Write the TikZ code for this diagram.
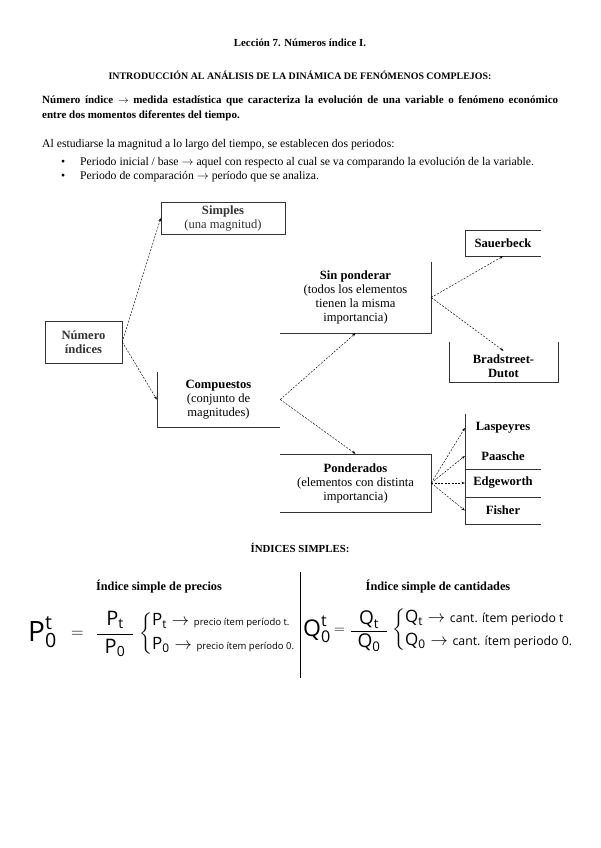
\documentclass[tikz,border=0pt]{standalone}
\usepackage{amsmath}
\usepackage{fontspec}
\setmainfont{Liberation Serif}
\newfontfamily\handfont{Open Sans}
\usepackage{tikz}
\usetikzlibrary{positioning, arrows.meta}
\newcommand{\hw}[1]{\text{\handfont #1}}
\newcommand{\hwnote}[2]{\text{\handfont\fontsize{#1}{#1}\selectfont #2}}
\tikzset{
  txt/.style={align=center, inner sep=0pt, font=\fontsize{12.6}{14}\selectfont},
  cell/.style={txt, minimum width=76pt},
  side/.style={line width=0.6pt, black!80},
  flow/.style={-{Stealth[length=3.5pt,width=2.6pt]}, dash pattern=on 2pt off 1.4pt, line width=0.45pt},
  bodytxt/.style={anchor=west, inner sep=0pt, font=\fontsize{11.7}{15}\selectfont},
  headtxt/.style={inner sep=0pt, font=\bfseries\fontsize{10.8}{12}\selectfont},
  subhead/.style={inner sep=0pt, font=\bfseries\fontsize{12.3}{14}\selectfont},
  hand/.style={inner sep=0pt, anchor=west, font=\handfont\fontsize{17}{19}\selectfont},
}
\begin{document}
\begin{tikzpicture}[x=1pt, y=-1pt]
  \useasboundingbox[fill=white] (0,0) rectangle (600,848);
  % heading and introduction
  \node[headtxt] (title) at (300,43) {Lección 7. Números índice I.};
  \node[headtxt, font=\bfseries\fontsize{9.9}{12}\selectfont] (intro) at (300,75)
    {INTRODUCCIÓN AL ANÁLISIS DE LA DINÁMICA DE FENÓMENOS COMPLEJOS:};
  \node[bodytxt, anchor=north west, text width=516pt, align=justify, font=\bfseries\fontsize{11}{15}\selectfont] (def) at (42,96)
    {Número índice $\rightarrow$ medida estadística que caracteriza la evolución de una variable o fenómeno económico\linebreak entre dos momentos diferentes del tiempo.};
  \node[bodytxt] (per) at (42,145) {Al estudiarse la magnitud a lo largo del tiempo, se establecen dos periodos:};
  \node[bodytxt] (b1) at (61,163) {\textbullet};
  \node[bodytxt] (per1) at (80,163) {Periodo inicial / base $\rightarrow$ aquel con respecto al cual se va comparando la evolución de la variable.};
  \node[bodytxt] (b2) at (61,177) {\textbullet};
  \node[bodytxt] (per2) at (80,177) {Periodo de comparación $\rightarrow$ período que se analiza.};

  % classification scheme
  \node[txt, draw, side, minimum width=77pt, minimum height=42pt] (num) at (83.5,342) {\textbf{Número}\\\textbf{índices}};
  \node[txt, draw, side, minimum width=124pt, minimum height=32pt] (simp) at (223,218) {\textbf{Simples}\\(una magnitud)};
  \node[txt, minimum width=123pt, minimum height=55pt] (comp) at (218.5,399.5) {\textbf{Compuestos}\\(conjunto de\\magnitudes)};
  \draw[side] (comp.north west) -- (comp.south west) -- (comp.south east);
  \node[txt, minimum width=151pt, minimum height=71pt] (sinp) at (355.5,297.5) {\textbf{Sin ponderar}\\(todos los elementos\\tienen la misma\\importancia)};
  \draw[side] (sinp.north east) -- (sinp.south east) -- (sinp.south west);
  \node[txt, minimum width=151pt, minimum height=58pt] (pond) at (355.5,483) {\textbf{Ponderados}\\(elementos con distinta\\importancia)};
  \draw[side] (pond.north west) -- (pond.north east) -- (pond.south east) -- (pond.south west);
  \node[cell, minimum height=26pt] (sauer) at (503,243) {\textbf{Sauerbeck}};
  \draw[side] (sauer.north east) -- (sauer.north west) -- (sauer.south west) -- (sauer.south east);
  \node[cell, minimum width=109pt, minimum height=31pt] (brad) at (503.5,366.5) {\textbf{Bradstreet-}\\\textbf{Dutot}};
  \draw[side] ([yshift=9pt]brad.north west) -- (brad.south west) -- (brad.south east) -- ([yshift=9pt]brad.north east);
  \node[cell] (lasp) at (503,428) {\textbf{Laspeyres}};
  \node[cell] (paas) at (503,456) {\textbf{Paasche}};
  \node[cell, minimum height=28pt] (edge) at (503,483) {\textbf{Edgeworth}};
  \node[cell, minimum height=27pt] (fish) at (503,510.5) {\textbf{Fisher}};
  \draw[side] ([yshift=55pt]edge.north west) -- (fish.south west) -- (fish.south east);
  \draw[side] (edge.north west) -- (edge.north east);
  \draw[side] (edge.south west) -- (edge.south east);

  \draw[flow] (num.east) -- (simp.west);
  \draw[flow] (num.east) -- (comp.west);
  \draw[flow] (comp.east) -- (sinp.south);
  \draw[flow] (comp.east) -- (pond.north);
  \draw[flow] (sinp.east) -- (sauer.south);
  \draw[flow] (sinp.east) -- (brad.north);
  \foreach \t in {lasp, paas, edge, fish}
    \draw[flow] (pond.east) -- (\t.west);

  % simple indices
  \node[headtxt] (simples) at (300,548) {ÍNDICES SIMPLES:};
  \node[subhead] (hprec) at (159,587) {Índice simple de precios};
  \node[subhead] (hcant) at (438,587) {Índice simple de cantidades};
  \draw[line width=1pt] (300,572) -- (300,678);
  % price index
  \node[hand, font=\handfont\fontsize{28}{30}\selectfont] (plhs) at (28,632) {$\hw{P}_{\hw{0}}^{\hw{t}}$};
  \node[hand, font=\fontsize{16}{18}\selectfont] (peq) at (71,634) {$=$};
  \node[hand, anchor=center, font=\handfont\fontsize{20}{22}\selectfont] (pfrac) at (115,634) {$\dfrac{\;\,\hw{P}_{\hw{t}}\,\;}{\hw{P}_{\hw{0}}}$};
  \node[hand] (pdef) at (139,634)
    {$\left\{\begin{array}{@{}l@{}}
       \hw{P}_{\hw{t}} \rightarrow \hwnote{9.5}{precio ítem período t.}\\[5pt]
       \hw{P}_{\hw{0}} \rightarrow \hwnote{9.5}{precio ítem período 0.}
     \end{array}\right.$};
  % quantity index
  \node[hand, font=\handfont\fontsize{23}{25}\selectfont] (qlhs) at (303,629) {$\hw{Q}_{\hw{0}}^{\hw{t}}$};
  \node[hand, font=\fontsize{14}{16}\selectfont] (qeq) at (334,631) {$=$};
  \node[hand, anchor=center, font=\handfont\fontsize{19}{21}\selectfont] (qfrac) at (369,631) {$\dfrac{\;\,\hw{Q}_{\hw{t}}\,\;}{\hw{Q}_{\hw{0}}}$};
  \node[hand] (qdef) at (392,630)
    {$\left\{\begin{array}{@{}l@{}}
       \hw{Q}_{\hw{t}} \rightarrow \hwnote{12.3}{cant. ítem periodo t}\\[4pt]
       \hw{Q}_{\hw{0}} \rightarrow \hwnote{12.3}{cant. ítem periodo 0.}
     \end{array}\right.$};
\end{tikzpicture}
\end{document}
